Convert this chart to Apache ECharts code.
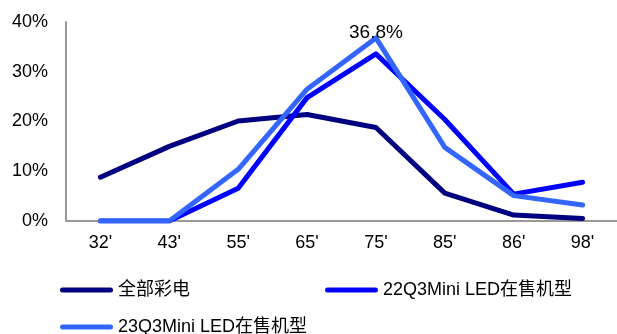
<!DOCTYPE html>
<html>
<head>
<meta charset="utf-8">
<script src="https://cdn.jsdelivr.net/npm/echarts@6/dist/echarts.min.js"></script>
<style>
  html, body { margin: 0; padding: 0; background: #fff; }
  #chart { width: 617px; height: 334px; }
</style>
</head>
<body>
<div id="chart"></div>
<script>
// Screen sizes (inches) on the category axis
const categories = ["32'", "43'", "55'", "65'", "75'", "85'", "86'", "98'"];

// Share of models per size, in percent
const allTV = [8.8, 15.0, 20.1, 21.4, 18.8, 5.6, 1.2, 0.5];
const miniLED22Q3 = [0, 0, 6.6, 24.8, 33.6, 20.4, 5.4, 7.8];
const miniLED23Q3 = [0, 0, 10.4, 26.5, 36.8, 14.8, 5.1, 3.2];

const seriesNames = ['全部彩电', '22Q3Mini LED在售机型', '23Q3Mini LED在售机型'];
const seriesColors = ['#000080', '#0000ff', '#3366ff'];

// Value that gets a text label on the 23Q3 line
const labelledIndex = 4;

const FONT = '"Liberation Sans", Arial, "Noto Sans CJK SC", sans-serif';
const pill = 'path://M2.5,0 H50.5 A2.5,2.5 0 0 1 50.5,5 H2.5 A2.5,2.5 0 0 1 2.5,0 Z';

function legendAt(name, left, top) {
  return {
    data: [name],
    left: left,
    top: top,
    padding: 0,
    itemWidth: 53,
    itemHeight: 5,
    itemGap: 0,
    icon: pill,
    selectedMode: false,
    textStyle: { fontFamily: FONT, fontSize: 18, color: '#000', padding: [0, 0, 0, 0], lineHeight: 20 }
  };
}

const chart = echarts.init(document.getElementById('chart'), null, { renderer: 'canvas' });

chart.setOption({
  animation: false,
  backgroundColor: '#fff',
  grid: { left: 66, top: 22, width: 552, height: 199, containLabel: false },
  legend: [
    legendAt(seriesNames[0], 60, 280),
    legendAt(seriesNames[1], 325, 280),
    legendAt(seriesNames[2], 60, 317)
  ],
  xAxis: {
    type: 'category',
    data: categories,
    boundaryGap: true,
    axisLine: { lineStyle: { color: '#999', width: 2 } },
    axisTick: { show: false },
    axisLabel: { color: '#000', fontFamily: FONT, fontSize: 18, margin: 13 },
    splitLine: { show: false }
  },
  yAxis: {
    type: 'value',
    min: 0,
    max: 40,
    interval: 10,
    axisLine: { show: true, lineStyle: { color: '#999', width: 2 } },
    axisTick: { show: false },
    splitLine: { show: false },
    axisLabel: {
      color: '#000', fontFamily: FONT, fontSize: 18, margin: 18,
      formatter: v => v + '%'
    }
  },
  series: [
    {
      name: seriesNames[0], type: 'line', data: allTV,
      symbol: 'none', color: seriesColors[0],
      lineStyle: { width: 5, color: seriesColors[0], cap: 'round', join: 'round' }
    },
    {
      name: seriesNames[1], type: 'line', data: miniLED22Q3,
      symbol: 'none', color: seriesColors[1],
      lineStyle: { width: 5, color: seriesColors[1], cap: 'round', join: 'round' }
    },
    {
      name: seriesNames[2], type: 'line', data: miniLED23Q3,
      symbol: 'none', color: seriesColors[2],
      lineStyle: { width: 5, color: seriesColors[2], cap: 'round', join: 'round' },
      z: 3,
      markPoint: {
        symbol: 'circle',
        symbolSize: 0,
        silent: true,
        data: [{
          coord: [labelledIndex, miniLED23Q3[labelledIndex]],
          value: miniLED23Q3[labelledIndex]
        }],
        label: {
          show: true, position: 'top', distance: -4,
          formatter: p => Number(p.value).toFixed(1) + '%',
          color: '#000', fontFamily: FONT, fontSize: 19
        }
      }
    }
  ]
});
</script>
</body>
</html>
